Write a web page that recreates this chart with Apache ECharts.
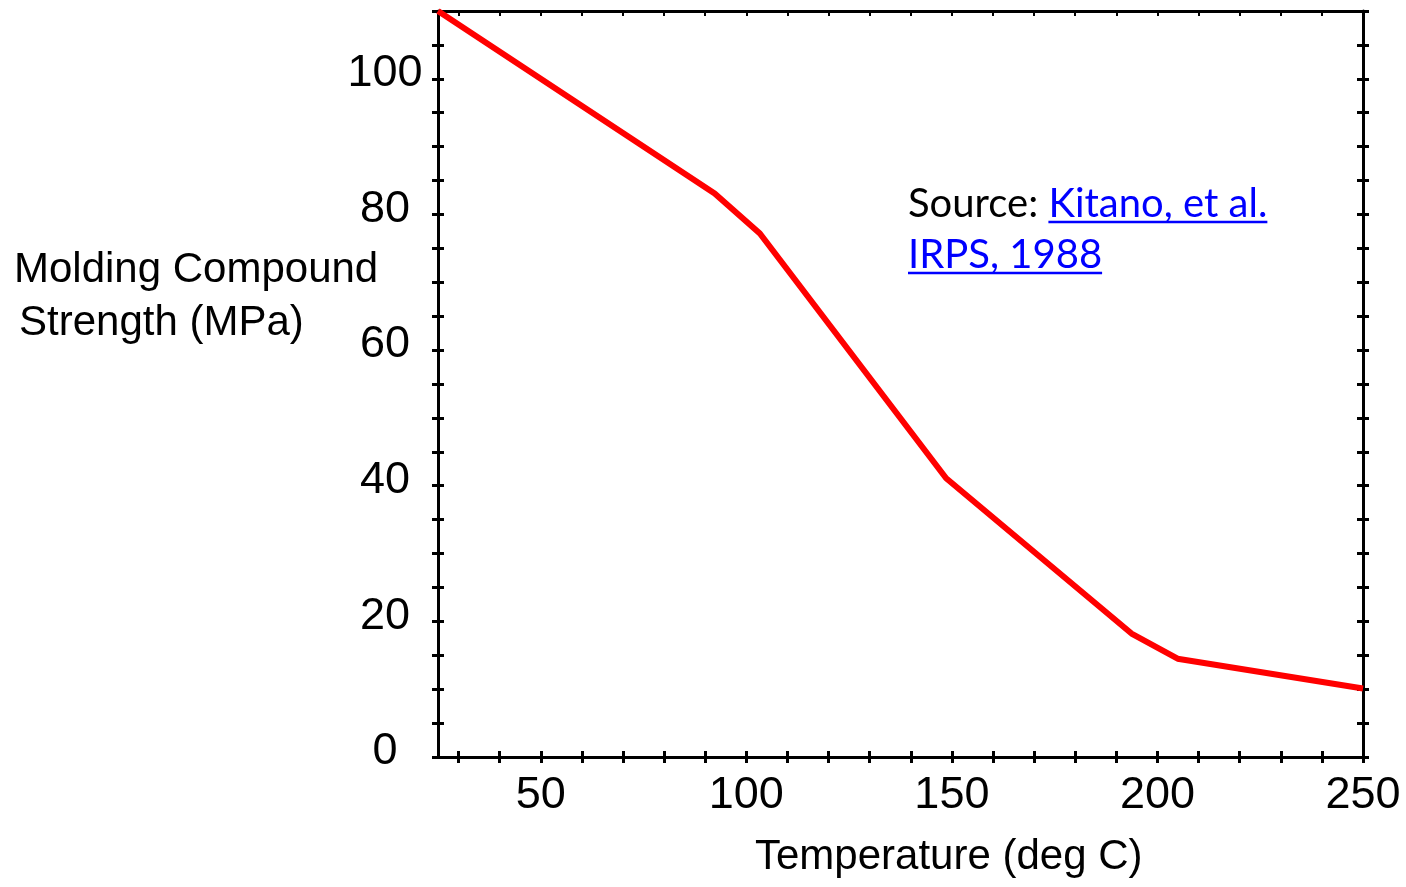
<!DOCTYPE html>
<html>
<head>
<meta charset="utf-8">
<script src="https://cdn.jsdelivr.net/npm/echarts@6/dist/echarts.min.js"></script>
<style>
html,body{margin:0;padding:0;background:#fff;}
#chart{width:1406px;height:887px;}
</style>
</head>
<body>
<div id="chart"></div>
<script>
// ---- data ----
const temperature = [25, 92.3, 103.3, 148.6, 193.7, 204.9, 250];
const strength    = [110, 83.1, 77.2, 41.1, 18.2, 14.5, 10.1];

const xMin = 25, xMax = 250;
const yMin = 0, yMax = 110;
const xTickValues  = [30, 40, 50, 60, 70, 80, 90, 100, 110, 120, 130, 140, 150, 160, 170, 180, 190, 200, 210, 220, 230, 240, 250];
const xLabelValues = [50, 100, 150, 200, 250];
const yTickInterval = 5;
const yLabelValues = [0, 20, 40, 60, 80, 100];

const xTitle = 'Temperature (deg C)';
const yTitleLines = ['Molding Compound', 'Strength (MPa)'];
const sourcePrefix = 'Source: ';
const sourceLink1 = 'Kitano, et al.';
const sourceLink2 = 'IRPS, 1988';

// ---- chart ----
const numFont = "'Liberation Sans Narrow', 'Liberation Sans', Arial, sans-serif";
const txtFont = "'Liberation Sans', Arial, sans-serif";
const srcFont = "Lato, 'Open Sans', sans-serif";
const srcSize = 40;
const numSize = 45;

const mctx = document.createElement('canvas').getContext('2d');
mctx.font = srcSize + 'px Lato';
const wPrefix = mctx.measureText(sourcePrefix).width;
const wLink1 = mctx.measureText(sourceLink1).width;
const wLink2 = mctx.measureText(sourceLink2).width;

const srcX = 908, srcY1 = 204, srcY2 = 255;

const black = '#000';
const lineW = 3;

function hiddenX(extra) {
  return Object.assign({
    type: 'value', min: xMin, max: xMax,
    axisLabel: { show: false }, splitLine: { show: false },
    axisLine: { show: false }
  }, extra);
}
function hiddenY(extra) {
  return Object.assign({
    type: 'value', min: yMin, max: yMax, interval: yTickInterval,
    axisLabel: { show: false }, splitLine: { show: false },
    axisLine: { show: false }
  }, extra);
}

const chart = echarts.init(document.getElementById('chart'), null, { renderer: 'canvas' });
chart.setOption({
  animation: false,
  backgroundColor: '#fff',
  grid: { left: 438, right: 43, top: 11, bottom: 130, containLabel: false, outerBoundsMode: 'none' },
  xAxis: [
    {
      type: 'value', min: xMin, max: xMax, position: 'bottom',
      axisLine: { show: true, onZero: false, lineStyle: { color: black, width: lineW } },
      axisTick: { show: true, inside: false, length: 6, customValues: xTickValues, lineStyle: { color: black, width: 3 } },
      axisLabel: { show: true, customValues: xLabelValues, margin: 16, color: black, fontSize: numSize, fontFamily: numFont },
      splitLine: { show: false }
    },
    hiddenX({ position: 'bottom', axisTick: { show: true, inside: true, length: 6, customValues: xTickValues, lineStyle: { color: black, width: 3 } } }),
    hiddenX({ position: 'top', axisLine: { show: true, onZero: false, lineStyle: { color: black, width: lineW } },
      axisTick: { show: true, inside: true, length: 5, customValues: xTickValues, lineStyle: { color: black, width: 2 } } })
  ],
  yAxis: [
    {
      type: 'value', min: yMin, max: yMax, interval: yTickInterval, position: 'left',
      axisLine: { show: true, onZero: false, lineStyle: { color: black, width: lineW } },
      axisTick: { show: true, inside: false, length: 6, lineStyle: { color: black, width: 3 } },
      axisLabel: { show: true, customValues: yLabelValues, margin: 53, align: 'center', verticalAlign: 'bottom', lineHeight: 10,
        color: black, fontSize: numSize, fontFamily: numFont },
      splitLine: { show: false }
    },
    hiddenY({ position: 'left', axisTick: { show: true, inside: true, length: 6, lineStyle: { color: black, width: 3 } } }),
    hiddenY({ position: 'right', axisLine: { show: true, onZero: false, lineStyle: { color: black, width: lineW } },
      axisTick: { show: true, inside: false, length: 6, lineStyle: { color: black, width: 3 } } }),
    hiddenY({ position: 'right', axisTick: { show: true, inside: true, length: 6, lineStyle: { color: black, width: 3 } } })
  ],
  series: [{
    type: 'line',
    xAxisIndex: 0, yAxisIndex: 0,
    data: temperature.map((t, i) => [t, strength[i]]),
    showSymbol: false,
    clip: false,
    lineStyle: { color: '#ff0000', width: 6 },
    z: 1
  }],
  graphic: [
    { type: 'text', x: 14, y: 270, style: { text: yTitleLines[0], fontSize: 42, fontFamily: txtFont, fill: black, align: 'left', verticalAlign: 'middle' } },
    { type: 'text', x: 19, y: 323, style: { text: yTitleLines[1], fontSize: 42, fontFamily: txtFont, fill: black, align: 'left', verticalAlign: 'middle' } },
    { type: 'text', x: 755, y: 857, style: { text: xTitle, fontSize: 42, fontFamily: txtFont, fill: black, align: 'left', verticalAlign: 'middle' } },
    { type: 'text', x: srcX, y: srcY1, style: { text: sourcePrefix, fontSize: srcSize, fontFamily: srcFont, fill: black, align: 'left', verticalAlign: 'middle' } },
    { type: 'text', x: srcX + wPrefix, y: srcY1, style: { text: sourceLink1, fontSize: srcSize, fontFamily: srcFont, fill: '#0000ff', align: 'left', verticalAlign: 'middle' } },
    { type: 'line', shape: { x1: srcX + wPrefix, y1: 222, x2: srcX + wPrefix + wLink1, y2: 222 }, style: { stroke: '#0000ff', lineWidth: 2.5 } },
    { type: 'text', x: srcX, y: srcY2, style: { text: sourceLink2, fontSize: srcSize, fontFamily: srcFont, fill: '#0000ff', align: 'left', verticalAlign: 'middle' } },
    { type: 'line', shape: { x1: srcX, y1: 273, x2: srcX + wLink2, y2: 273 }, style: { stroke: '#0000ff', lineWidth: 2.5 } }
  ]
});
</script>
</body>
</html>
